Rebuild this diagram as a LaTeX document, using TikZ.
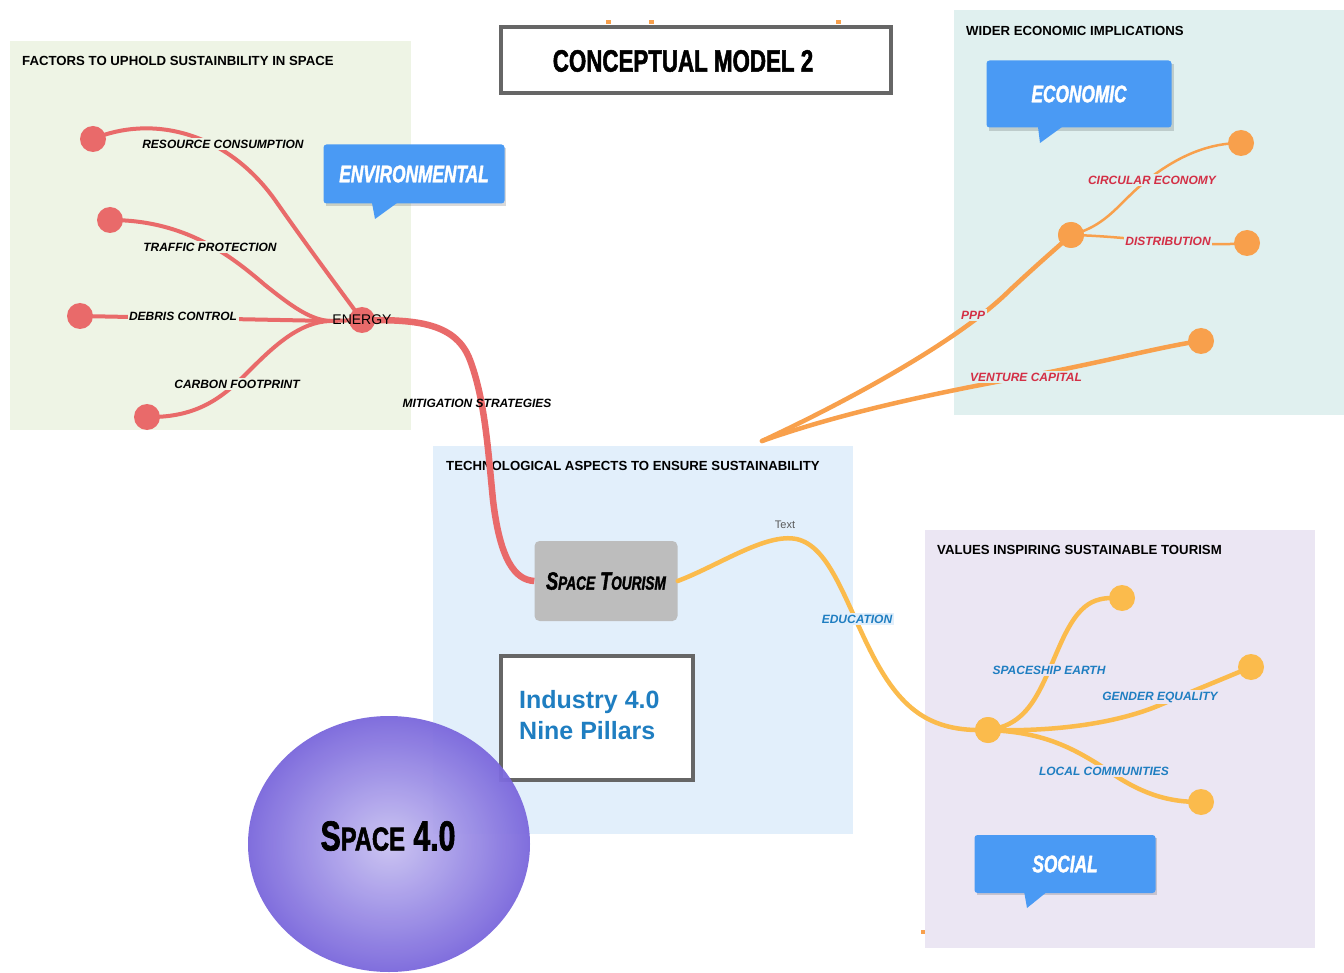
\documentclass[tikz,border=0pt]{standalone}
\usepackage{fontspec}
\setmainfont{Liberation Sans}
\newfontface\heavy[FakeStretch=0.72,FakeBold=1.6]{Liberation Sans Bold}
\newfontface\heavyit[FakeStretch=0.72,FakeBold=1.6]{Liberation Sans Bold Italic}
\usetikzlibrary{shapes.geometric}
\definecolor{cred}{HTML}{E96A6A}
\definecolor{corange}{HTML}{F8A04C}
\definecolor{cyellow}{HTML}{FBBB4C}
\definecolor{cblue}{HTML}{4A9AF4}
\definecolor{lred}{HTML}{D32F45}
\definecolor{lblue}{HTML}{1F7EC1}
\definecolor{pgreen}{HTML}{EEF4E5}
\definecolor{pteal}{HTML}{E0F0EF}
\definecolor{ptech}{HTML}{E2EFFB}
\definecolor{psocial}{HTML}{EBE6F3}
\definecolor{bordergray}{HTML}{666666}
\definecolor{tourgray}{HTML}{BDBDBD}
\definecolor{sphin}{HTML}{C9C2F2}
\definecolor{sphout}{HTML}{7A67DC}
\begin{document}
\begin{tikzpicture}[x=1pt,y=-1pt,
  ptitle/.style={anchor=west,font=\bfseries\fontsize{13.2}{13.2}\selectfont,inner sep=0pt},
  lab/.style={font=\bfseries\itshape\fontsize{12}{12}\selectfont,inner sep=1.5pt},
  dot/.style={circle,minimum size=26pt,inner sep=0pt},
  callout/.style={fill=cblue,rounded corners=3pt,minimum width=182pt,minimum height=60pt,text=white,font=\heavyit\fontsize{24}{24}\selectfont},
  redline/.style={draw=cred,line width=4pt,line cap=round},
  orline/.style={draw=corange,line width=4.5pt,line cap=round},
  yeline/.style={draw=cyellow,line width=4.5pt,line cap=round},
]
\useasboundingbox (0,0) rectangle (1344,973);
\fill[white] (0,0) rectangle (1344,973);

% panels
\fill[pgreen] (10,41) rectangle (411,430);
\fill[pteal] (954,10) rectangle (1344,415);
\fill[ptech] (433,446) rectangle (853,834);
\fill[psocial] (925,530) rectangle (1315,948);

\node[ptitle] (t1) at (22,61) {FACTORS TO UPHOLD SUSTAINBILITY IN SPACE};
\node[ptitle] (t2) at (966,31) {WIDER ECONOMIC IMPLICATIONS};
\node[ptitle] (t3) at (446,466) {TECHNOLOGICAL ASPECTS TO ENSURE SUSTAINABILITY};
\node[ptitle] (t4) at (937,550) {VALUES INSPIRING SUSTAINABLE TOURISM};

% title box
\fill[corange] (606,20) rectangle (611,24);
\fill[corange] (649,20) rectangle (654,24);
\fill[corange] (836,20) rectangle (841,24);
\fill[corange] (921,930) rectangle (925,934);
\node[draw=bordergray,line width=4pt,fill=white,minimum width=390pt,minimum height=66pt] (title) at (696,60) {};
\node[font=\heavy\fontsize{31}{31}\selectfont,inner sep=0pt] (titlet) at (683,61) {CONCEPTUAL MODEL 2};

% ---------- environmental (red) ----------
\coordinate (en) at (362,320);
\coordinate (ej) at (330,321);
\node[dot,fill=cred] (rc) at (93,139) {};
\node[dot,fill=cred] (tp) at (110,220) {};
\node[dot,fill=cred] (dc) at (80,316) {};
\node[dot,fill=cred] (cf) at (147,417) {};
\draw[redline] (rc.center) .. controls (150,115) and (225,130) .. (275,200) .. controls (310,250) and (340,290) .. (en);
\draw[redline] (tp.center) .. controls (185,220) and (230,255) .. (265,285) .. controls (290,305) and (310,320) .. (ej);
\draw[redline] (dc.center) -- (ej);
\draw[redline] (cf.center) .. controls (200,418) and (225,395) .. (250,370) .. controls (275,345) and (300,322) .. (ej);
\draw[redline] (ej) -- (en);
\node[lab,fill=pgreen] at (223,144) {RESOURCE CONSUMPTION};
\node[lab,fill=pgreen] at (210,247) {TRAFFIC PROTECTION};
\node[lab,fill=pgreen] at (183,316) {DEBRIS CONTROL};
\node[lab,fill=pgreen] at (237,384) {CARBON FOOTPRINT};

% callout environmental
\fill[black,opacity=0.15] (326,148) rectangle (506,206);
\node[callout,minimum width=181pt,minimum height=59pt] (envc) at (414,174) {ENVIRONMENTAL};
\fill[cblue] (372,203) -- (397,203) -- (375,219) -- cycle;

% ---------- space tourism ----------
\node[fill=tourgray,rounded corners=5pt,minimum width=143pt,minimum height=80pt,font=\heavyit\fontsize{25}{25}\selectfont] (st) at (606,581) {S{\fontsize{19}{19}\selectfont PACE} T{\fontsize{19}{19}\selectfont OURISM}};

% mitigation
\draw[draw=cred,line width=6.5pt] (en) .. controls (410,320) and (455,320) .. (470,360) .. controls (485,400) and (488,450) .. (493,500) .. controls (500,560) and (515,580) .. (st.west);
\node[lab,fill=none] at (477,403) {MITIGATION STRATEGIES};
\node[dot,fill=cred] (energy) at (en) {};
\node[font=\fontsize{14}{14}\selectfont,inner sep=0pt] (enlab) at (362,320) {ENERGY};

% ---------- economic (orange) ----------
\coordinate (root) at (762,441);
\node[dot,fill=corange] (hub) at (1071,235) {};
\node[dot,fill=corange] (vc) at (1201,341) {};
\node[dot,fill=corange] (ce) at (1241,143) {};
\node[dot,fill=corange] (di) at (1247,243) {};
\draw[orline] (root) .. controls (850,400) and (960,340) .. (1010,290) .. controls (1040,262) and (1060,245) .. (hub.center);
\draw[orline] (root) .. controls (850,410) and (950,390) .. (1050,372) .. controls (1120,358) and (1170,345) .. (vc.center);
\draw[draw=corange,line width=2.5pt] (hub.center) .. controls (1110,225) and (1120,200) .. (1150,178) .. controls (1180,155) and (1210,143) .. (ce.center);
\draw[draw=corange,line width=2.5pt] (hub.center) .. controls (1130,236) and (1190,248) .. (di.center);
\node[dot,fill=corange] (hub2) at (1071,235) {};
\node[lab,fill=pteal,text=lred] at (973,315) {PPP};
\node[lab,fill=pteal,text=lred] at (1026,377) {VENTURE CAPITAL};
\node[lab,fill=pteal,text=lred] at (1152,180) {CIRCULAR ECONOMY};
\node[lab,fill=pteal,text=lred] at (1168,241) {DISTRIBUTION};

% callout economic
\fill[black,opacity=0.15] (989,64) rectangle (1174,131);
\node[callout,minimum width=185pt,minimum height=67pt] (ecoc) at (1079,94) {ECONOMIC};
\fill[cblue] (1038,127) -- (1062,127) -- (1040,143) -- cycle;

% ---------- social (yellow) ----------
\node[dot,fill=cyellow] (sh) at (988,730) {};
\node[dot,fill=cyellow] (se) at (1122,598) {};
\node[dot,fill=cyellow] (ge) at (1251,667) {};
\node[dot,fill=cyellow] (lc) at (1201,802) {};
\draw[yeline] (st.east) .. controls (720,565) and (770,530) .. (800,540) .. controls (830,550) and (845,600) .. (870,650) .. controls (900,710) and (930,732) .. (sh.center);
\draw[yeline] (sh.center) .. controls (1030,725) and (1040,690) .. (1060,645) .. controls (1080,600) and (1095,597) .. (se.center);
\draw[yeline] (sh.center) .. controls (1060,732) and (1120,722) .. (1160,705) .. controls (1200,688) and (1230,676) .. (ge.center);
\draw[yeline] (sh.center) .. controls (1040,732) and (1070,745) .. (1110,772) .. controls (1150,800) and (1180,802) .. (lc.center);
\node[dot,fill=cyellow] (sh2) at (988,730) {};
\node[font=\fontsize{11}{11}\selectfont,text=black!65,inner sep=0pt] at (785,525) {Text};
\node[lab,fill=ptech,text=lblue] at (857,619) {EDUCATION};
\node[lab,fill=psocial,text=lblue] at (1049,670) {SPACESHIP EARTH};
\node[lab,fill=psocial,text=lblue] at (1160,697) {GENDER EQUALITY};
\node[lab,fill=psocial,text=lblue] at (1104,771) {LOCAL COMMUNITIES};

% callout social
\fill[black,opacity=0.15] (977,838) rectangle (1157,895);
\node[callout,minimum width=181pt,minimum height=58pt] (socc) at (1065,864) {SOCIAL};
\fill[cblue] (1024,891) -- (1048,891) -- (1027,908) -- cycle;

% ---------- industry box ----------
\node[draw=bordergray,line width=4pt,fill=white,minimum width=192pt,minimum height=124pt] (ind) at (597,718) {};
\node[anchor=north west,text=lblue,font=\bfseries\fontsize{25}{31}\selectfont,align=left,inner sep=0pt] (indt) at (519,690) {Industry 4.0\\Nine Pillars};

% ---------- space 4.0 ----------
\node[ellipse,minimum width=282pt,minimum height=256pt,inner color=sphin,outer color=sphout,opacity=0.95] (sp) at (389,844) {};
\node[font=\heavy\fontsize{42}{42}\selectfont,inner sep=0pt] (spt) at (388,836) {S{\fontsize{33}{33}\selectfont PACE} 4.0};
\end{tikzpicture}
\end{document}
